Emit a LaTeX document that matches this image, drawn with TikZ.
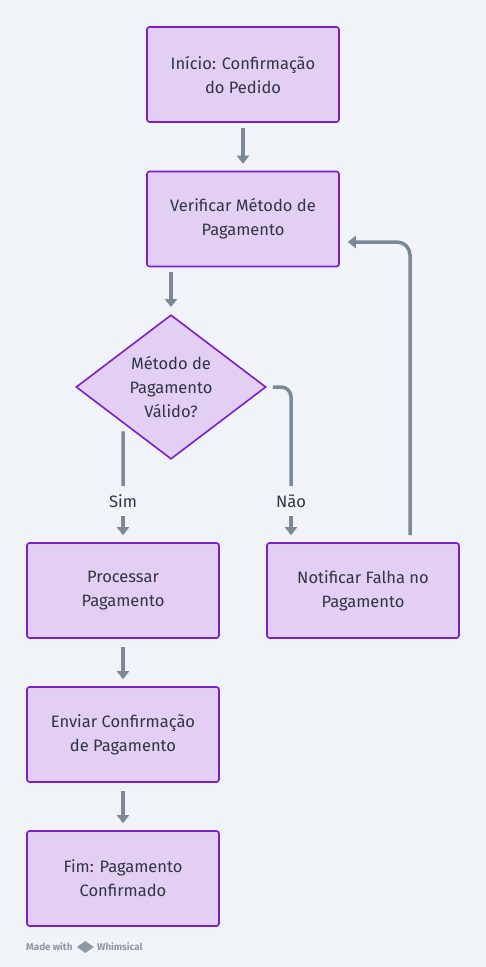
\documentclass[tikz,border=0pt]{standalone}
\usepackage{fontspec}
\setmainfont{Fira Sans}
\usetikzlibrary{arrows.meta,positioning,shapes.geometric}
\definecolor{canvas}{HTML}{F0F3F7}
\definecolor{lilac}{HTML}{E3CEF4}
\definecolor{violet}{HTML}{7A1FC9}
\definecolor{wire}{HTML}{7B8895}
\definecolor{ink}{HTML}{2F3541}
\definecolor{faint}{HTML}{8E98A3}

\begin{document}
\begin{tikzpicture}[x=1pt,y=1pt,>={Triangle[width=12pt,length=8pt]},
    stepbox/.style={draw=violet,line width=1.6pt,rounded corners=2.5pt,fill=lilac,
                    minimum width=192pt,minimum height=95pt,align=center,text=ink,
                    font=\fontsize{16.5}{24}\selectfont},
    choice/.style={diamond,draw=violet,line width=1.6pt,fill=lilac,inner sep=0pt,
                   minimum width=190pt,minimum height=142pt,align=center,text=ink,
                   font=\fontsize{16.5}{24}\selectfont},
    tag/.style={text=ink,minimum height=30pt,inner sep=0pt,
                font=\fontsize{16.5}{18}\selectfont},
    flow/.style={draw=wire,line width=3.5pt,shorten <=5pt,shorten >=7pt,->},
    credit/.style={text=faint,inner sep=0pt,font=\fontsize{9.8}{11}\selectfont\bfseries}]
    \useasboundingbox[fill=canvas] (0,0) rectangle (486,-967);

    \node[stepbox] (start) at (243,-74.5) {Início: Confirmação\\do Pedido};
    \node[stepbox] (verify) at (243,-219) {Verificar Método de\\Pagamento};
    \node[choice] (valid) at (171,-387) {Método de\\Pagamento\\Válido?};
    \node[tag] (sim) at (123,-501) {Sim};
    \node[tag] (nao) at (291,-501) {Não};
    \node[stepbox] (process) at (123,-590.5) {Processar\\Pagamento};
    \node[stepbox] (notify) at (363,-590.5) {Notificar Falha no\\Pagamento};
    \node[stepbox] (send) at (123,-734.5) {Enviar Confirmação\\de Pagamento};
    \node[stepbox] (finish) at (123,-878.5) {Fim: Pagamento\\Confirmado};

    \draw[flow] (start) -- (verify);
    \draw[flow] ([xshift=-72pt]verify.south) -- (valid.north);
    \draw[flow,-,shorten >=0pt,shorten <=8pt] (valid.south west) -- (sim.north);
    \draw[flow,shorten <=0pt] (sim.south) -- (process.north);
    \draw[flow,-,shorten >=0pt,shorten <=6pt,rounded corners=10pt] (valid.east) -| (nao.north);
    \draw[flow,shorten <=0pt] (nao.south) -- (notify.north -| nao);
    \draw[flow,shorten <=7pt,shorten >=8pt,rounded corners=13pt]
        ([xshift=47pt]notify.north) |- ([yshift=-23pt]verify.east);
    \draw[flow,shorten <=8pt] (process) -- (send);
    \draw[flow,shorten <=8pt] (send) -- (finish);

    % watermark
    \node[credit,anchor=west] (made) at (26,-947) {Made with};
    \node[diamond,fill=faint,inner sep=0pt,minimum width=17pt,minimum height=12pt,
          right=4pt of made] (logo) {};
    \node[credit,right=3pt of logo] (brand) {Whimsical};
\end{tikzpicture}
\end{document}
